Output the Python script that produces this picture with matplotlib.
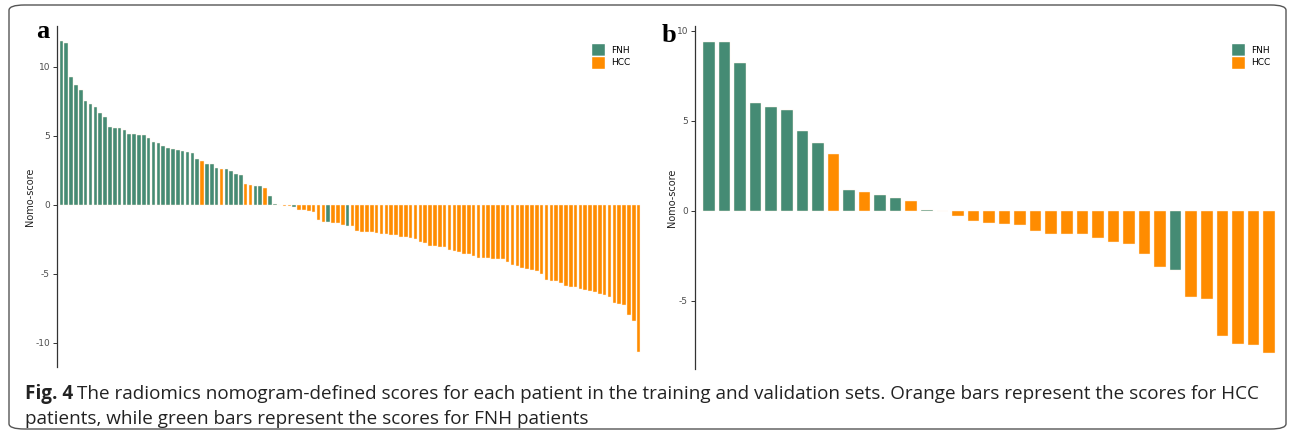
import matplotlib
matplotlib.use("Agg")
import matplotlib.pyplot as plt
from matplotlib.patches import FancyBboxPatch, Patch

# training set (a)
scores_a = [11.84, 11.76, 9.3, 8.7, 8.33, 7.54, 7.32, 7.08, 6.64, 6.4,
            5.63, 5.6, 5.56, 5.39, 5.17, 5.12, 5.05, 5.05, 4.88, 4.54,
            4.47, 4.3, 4.13, 4.03, 3.96, 3.91, 3.84, 3.79, 3.29, 3.16,
            2.95, 2.95, 2.68, 2.58, 2.58, 2.44, 2.27, 2.17, 1.50, 1.43,
            1.38, 1.38, 1.23, 0.63, 0.06, -0.02, -0.07, -0.11, -0.19, -0.37,
            -0.40, -0.41, -0.55, -1.12, -1.23, -1.25, -1.30, -1.35, -1.44, -1.51,
            -1.56, -1.88, -1.96, -1.98, -2.0, -2.05, -2.1, -2.13, -2.15, -2.22,
            -2.32, -2.34, -2.37, -2.49, -2.66, -2.78, -3.0, -3.0, -3.02, -3.07,
            -3.24, -3.31, -3.43, -3.53, -3.55, -3.74, -3.82, -3.82, -3.85, -3.89,
            -3.94, -3.94, -4.13, -4.35, -4.44, -4.61, -4.64, -4.71, -4.76, -5.0,
            -5.48, -5.53, -5.53, -5.68, -5.87, -5.92, -5.97, -6.09, -6.18, -6.28,
            -6.33, -6.47, -6.52, -6.67, -7.13, -7.2, -7.29, -8.02, -8.45, -10.63]
groups_a = (["FNH"] * 29 + ["HCC"] + ["FNH"] * 3 + ["HCC"] + ["FNH"] * 4
            + ["HCC"] * 2 + ["FNH"] * 2 + ["HCC"] + ["FNH"] * 2 + ["HCC"] * 3
            + ["FNH"] + ["HCC"] * 6 + ["FNH"] + ["HCC"] * 3 + ["FNH"] + ["HCC"] * 60)

# validation set (b)
scores_b = [9.4, 9.37, 8.23, 6.0, 5.77, 5.59, 4.45, 3.78, 3.15, 1.14,
            1.06, 0.86, 0.73, 0.56, 0.04, -0.02, -0.28, -0.56, -0.67, -0.74,
            -0.82, -1.15, -1.27, -1.27, -1.30, -1.49, -1.75, -1.83, -2.38, -3.15,
            -3.31, -4.77, -4.93, -6.95, -7.43, -7.47, -7.93]
groups_b = (["FNH"] * 8 + ["HCC", "FNH", "HCC", "FNH", "FNH", "HCC", "FNH"]
            + ["HCC"] * 15 + ["FNH"] + ["HCC"] * 6)

colors = {"FNH": "#458B74", "HCC": "#FF8C00"}
W, H = 1295, 438

fig = plt.figure(figsize=(W / 100, H / 100), dpi=100)
fig.patches.append(FancyBboxPatch((9 / W, 9 / H), 1277 / W, 424 / H,
                                  boxstyle="round,pad=0,rounding_size=0.012",
                                  transform=fig.transFigure, fill=False,
                                  edgecolor="#555555", linewidth=1.0))


def px_axes(l, t, r, b):
    return fig.add_axes([l / W, 1 - b / H, (r - l) / W, (b - t) / H])


def draw_panel(ax, scores, groups, yticks):
    n = len(scores)
    x = range(1, n + 1)
    ax.bar(x, scores, width=0.74, color=[colors[g] for g in groups],
           edgecolor="#FFF3E6", linewidth=0.3)
    lo, hi = min(scores), max(scores)
    pad = (hi - lo) * 0.05
    ax.set_ylim(lo - pad, hi + pad)
    ax.set_xlim(0.1, n + 0.9)
    ax.set_xticks([])
    ax.set_yticks(yticks)
    ax.set_yticklabels([str(t) for t in yticks])
    for s in ["top", "right", "bottom"]:
        ax.spines[s].set_visible(False)
    ax.spines["left"].set_color("#333333")
    ax.spines["left"].set_linewidth(0.9)
    ax.tick_params(axis="y", labelsize=6.5, colors="#333333", labelcolor="#4D4D4D",
                   length=3, width=0.7, pad=2)
    ax.set_ylabel("Nomo-score", fontsize=7, color="#222222", labelpad=0)
    handles = [Patch(facecolor=colors[k], edgecolor="white", label=k) for k in ["FNH", "HCC"]]
    ax.legend(handles=handles, loc="upper right", bbox_to_anchor=(0.985, 0.96),
              frameon=False, fontsize=6.5, handlelength=1.6, handleheight=1.8,
              handletextpad=0.7, labelspacing=0.0, borderaxespad=0)


ax_a = px_axes(57, 26, 643, 367)
draw_panel(ax_a, scores_a, groups_a, [-10, -5, 0, 5, 10])
ax_b = px_axes(695, 26, 1283, 369)
draw_panel(ax_b, scores_b, groups_b, [-5, 0, 5, 10])

fig.text(36 / W, 1 - 31 / H, "a", fontsize=19, fontweight="bold",
         family="Liberation Serif", va="center", ha="left")
fig.text(662 / W, 1 - 35 / H, "b", fontsize=19, fontweight="bold",
         family="Liberation Serif", va="center", ha="left")

cap_font = "Open Sans"
cap_size = 13.6
line1 = ("The radiomics nomogram-defined scores for each patient in the training and "
         "validation sets. Orange bars represent the scores for HCC")
line2 = "patients, while green bars represent the scores for FNH patients"
t1 = fig.text(25 / W, 1 - 394 / H, "Fig. 4", fontsize=cap_size, fontweight="bold",
              family=cap_font, va="center", ha="left", color="#222222")
fig.canvas.draw()
bb = t1.get_window_extent()
fig.text((bb.x1 + 4) / W, 1 - 394 / H, line1, fontsize=cap_size, family=cap_font,
         va="center", ha="left", color="#222222")
fig.text(25 / W, 1 - 419 / H, line2, fontsize=cap_size, family=cap_font,
         va="center", ha="left", color="#222222")

fig.savefig("out.png", dpi=100)
